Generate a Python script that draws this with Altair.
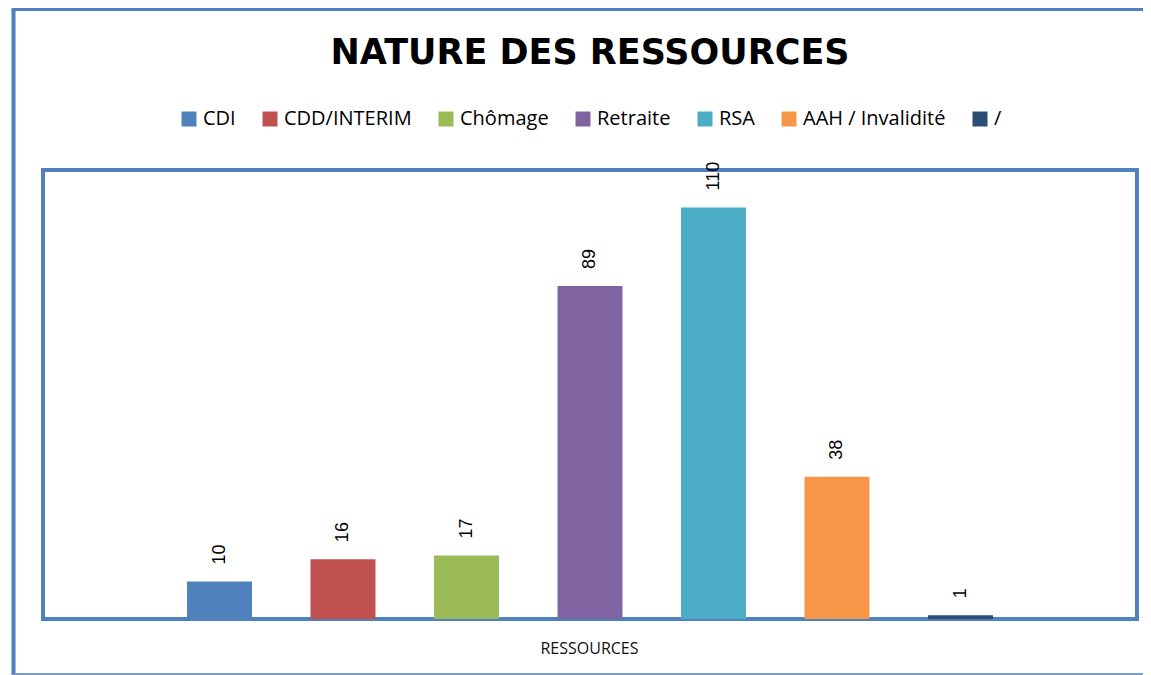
import altair as alt
import pandas as pd

categories = ["CDI", "CDD/INTERIM", "Chômage", "Retraite", "RSA", "AAH / Invalidité", "/"]
values = [10, 16, 17, 89, 110, 38, 1]
colors = ["#4F81BD", "#C0504D", "#9BBB59", "#8064A2", "#4BACC6", "#F79646", "#2C4D75"]

df = pd.DataFrame({"cat": categories, "val": values})

x_enc = alt.X(
    "cat:N",
    sort=categories,
    scale=alt.Scale(range=[114.75, 979.25], paddingInner=0.474, paddingOuter=0.237),
    axis=alt.Axis(
        labels=False, ticks=False, domain=False, grid=False,
        title="RESSOURCES", titleFont="Open Sans", titleFontSize=16,
        titleFontWeight="normal", titleColor="#111111", titlePadding=21,
        titleX=546,
    ),
)
y_enc = alt.Y("val:Q", scale=alt.Scale(domain=[0, 120]), axis=None)

base = alt.Chart(df)

bars = base.mark_bar().encode(
    x=x_enc,
    y=y_enc,
    color=alt.Color(
        "cat:N",
        sort=categories,
        scale=alt.Scale(domain=categories, range=colors),
        legend=alt.Legend(
            title=None, orient="none", direction="horizontal", columns=7,
            legendX=136, legendY=-61, symbolType="square", symbolSize=225,
            symbolStrokeWidth=0, labelFont="Open Sans", labelFontSize=20,
            labelColor="#000000", labelOffset=4, columnPadding=24, padding=0,
        ),
    ),
)

labels = base.mark_text(
    angle=270, align="left", baseline="middle", dx=17,
    font="Liberation Sans", fontSize=18, color="#000000",
).encode(x=x_enc, y=y_enc, text="val:Q")

frame_df = pd.DataFrame({"k": [0]})
border_color = "#4F81BD"
left_line = alt.Chart(frame_df).mark_rule(color=border_color, strokeWidth=4).encode(
    x=alt.value(-29.5), y=alt.value(-160.5), y2=alt.value(504)
)
top_line = alt.Chart(frame_df).mark_rule(color=border_color, strokeWidth=3).encode(
    x=alt.value(-31.5), x2=alt.value(1100), y=alt.value(-160.5)
)
bottom_line = alt.Chart(frame_df).mark_rule(color=border_color, strokeWidth=1.5).encode(
    x=alt.value(-31.5), x2=alt.value(1100), y=alt.value(504)
)

chart = (
    alt.layer(left_line, top_line, bottom_line, bars, labels)
    .properties(
        width=1094,
        height=449,
        background="white",
        autosize=alt.AutoSizeParams(type="none"),
        padding={"left": 35, "top": 162, "right": 6, "bottom": 56},
        title=alt.TitleParams(
            "NATURE DES RESSOURCES", font="DejaVu Sans", fontSize=35,
            fontWeight="bold", color="#000000", anchor="middle", offset=-63,
        ),
    )
    .configure_view(stroke=border_color, strokeWidth=4)
)

chart.save("out.html", embed_options={"renderer": "svg", "actions": False})
